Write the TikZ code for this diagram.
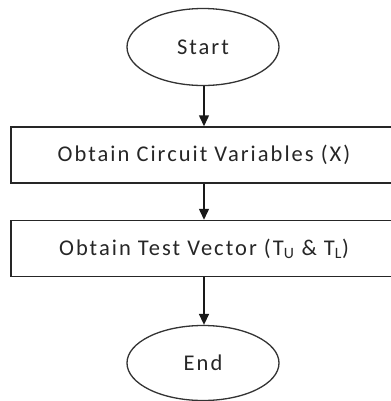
\documentclass[tikz,border=0pt]{standalone}
\usepackage{fontspec}
\setmainfont{Carlito}[LetterSpace=9]
\usetikzlibrary{arrows.meta,shapes.geometric}
\begin{document}
\begin{tikzpicture}[x=1bp,y=-1bp,
  term/.style={ellipse,draw=black!80,line width=1.3bp,minimum width=152bp,minimum height=77bp,inner sep=0pt},
  procbox/.style={rectangle,draw=black!85,line width=1.5bp,minimum width=386bp,minimum height=56bp,inner sep=0pt},
  flow/.style={draw=black!90,line width=1.5bp,-{Triangle[width=10bp,length=11bp]}},
  font=\fontsize{22.5bp}{26bp}\selectfont\color{black!85}]
\useasboundingbox (0,0) rectangle (391,401);
\clip (0,0) rectangle (391,401);
\node[term] (start) at (203,47) {Start};
\node[procbox] (vars) at (204,155) {Obtain Circuit Variables (X)};
\node[procbox] (vec) at (204,248.5) {Obtain Test Vector (T\textsubscript{U} \& T\textsubscript{L})};
\node[term,minimum height=75bp] (end) at (203,363) {End};
\draw[flow] (start.south -| vars.north) -- (vars.north);
\draw[flow] (vars.south) -- (vec.north);
\draw[flow] (vec.south) -- (end.north -| vec.south);
\end{tikzpicture}
\end{document}
